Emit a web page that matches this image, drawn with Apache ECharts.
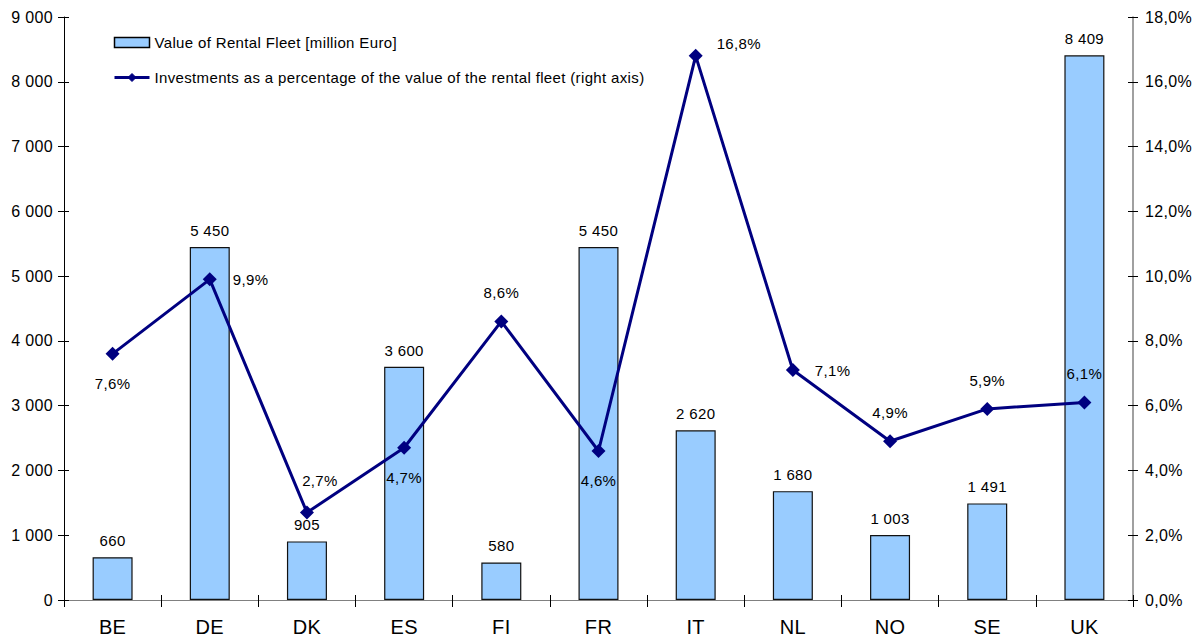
<!DOCTYPE html>
<html>
<head>
<meta charset="utf-8">
<script src="https://cdn.jsdelivr.net/npm/echarts@6/dist/echarts.min.js"></script>
<style>
html,body{margin:0;padding:0;background:#fff;}
#chart{width:1200px;height:641px;}
#chart svg text{letter-spacing:0.35px;}
</style>
</head>
<body>
<div id="chart"></div>
<script>
// Rental fleet value by country and investment share
const countries = ['BE','DE','DK','ES','FI','FR','IT','NL','NO','SE','UK'];
const fleetValue = [660, 5450, 905, 3600, 580, 5450, 2620, 1680, 1003, 1491, 8409];
const investPct = [7.6, 9.9, 2.7, 4.7, 8.6, 4.6, 16.8, 7.1, 4.9, 5.9, 6.1];
const pctLabelPos = ['bottom','right','top','bottom','top','bottom','right','right','top','top','top'];

const FONT = '"Liberation Sans", Arial, sans-serif';
const fmtThousands = v => String(Math.round(v)).replace(/\B(?=(\d{3})+(?!\d))/g, ' ');
const fmtPct = v => v.toFixed(1).replace('.', ',') + '%';

const labelOffsets = {
  bottom: [0, 3],
  top: [0, -2],
  right: [3, 0]
};
const specialOffsets = { DK: [13, -6], IT: [2, -12], DE: [4, 0] };

const lineData = investPct.map((v, i) => {
  const pos = pctLabelPos[i];
  return {
    value: v,
    label: { position: pos, offset: specialOffsets[countries[i]] || labelOffsets[pos] }
  };
});

// Ticks cross the axis lines: an extra tick-only axis draws the inner half
const tickOnly = inside => ({
  axisLine: { show: false },
  axisLabel: { show: false },
  splitLine: { show: false },
  axisTick: { show: true, inside: inside, length: 5, lineStyle: { color: '#000' } }
});

const chart = echarts.init(document.getElementById('chart'), null, { renderer: 'svg' });
chart.setOption({
  animation: false,
  backgroundColor: '#ffffff',
  textStyle: { fontFamily: FONT, color: '#000' },
  grid: { left: 64, right: 67, top: 17, bottom: 41, containLabel: false },
  legend: {
    orient: 'vertical',
    left: 108,
    top: 30,
    itemGap: 20,
    itemWidth: 35,
    itemHeight: 10,
    itemStyle: { borderColor: '#000', borderWidth: 1.5 },
    textStyle: { fontFamily: FONT, fontSize: 15, color: '#000' },
    data: [
      { name: 'Value of Rental Fleet [million Euro]', icon: 'rect',
        itemStyle: { color: '#99CCFF', borderColor: '#000', borderWidth: 1.5 } },
      { name: 'Investments as a percentage of the value of the rental fleet (right axis)',
        lineStyle: { width: 3, color: '#000080' },
        itemStyle: { color: '#000080', borderColor: '#000080', borderWidth: 1 } }
    ]
  },
  xAxis: [
    {
      type: 'category',
      data: countries,
      axisLine: { lineStyle: { color: '#808080', width: 1 } },
      axisTick: { show: true, length: 7, lineStyle: { color: '#000' } },
      axisLabel: { fontFamily: FONT, fontSize: 20, color: '#000', margin: 17 }
    },
    Object.assign({ type: 'category', data: countries, position: 'bottom' }, tickOnly(true))
  ],
  yAxis: [
    {
      type: 'value',
      min: 0, max: 9000, interval: 1000,
      splitLine: { show: false },
      axisLine: { show: true, lineStyle: { color: '#000', width: 1 } },
      axisTick: { show: true, length: 6, lineStyle: { color: '#000' } },
      axisLabel: { fontFamily: FONT, fontSize: 16, color: '#000', margin: 11,
        formatter: v => fmtThousands(v) }
    },
    {
      type: 'value',
      min: 0, max: 18, interval: 2,
      splitLine: { show: false },
      axisLine: { show: true, lineStyle: { color: '#808080', width: 1.5 } },
      axisTick: { show: true, length: 5, lineStyle: { color: '#000' } },
      axisLabel: { fontFamily: FONT, fontSize: 16, color: '#000', margin: 12,
        formatter: v => fmtPct(v) }
    },
    Object.assign({ type: 'value', min: 0, max: 9000, interval: 1000, position: 'left' }, tickOnly(true)),
    Object.assign({ type: 'value', min: 0, max: 18, interval: 2, position: 'right' }, tickOnly(true))
  ],
  series: [
    {
      name: 'Value of Rental Fleet [million Euro]',
      type: 'bar',
      xAxisIndex: 0,
      yAxisIndex: 0,
      data: fleetValue,
      barWidth: 40,
      itemStyle: { color: '#99CCFF', borderColor: '#111', borderWidth: 1.2 },
      label: {
        show: true, position: 'top', distance: 9,
        fontFamily: FONT, fontSize: 15, color: '#000',
        formatter: p => fmtThousands(p.value)
      },
      z: 2
    },
    {
      name: 'Investments as a percentage of the value of the rental fleet (right axis)',
      type: 'line',
      xAxisIndex: 0,
      yAxisIndex: 1,
      data: lineData,
      symbol: 'diamond',
      symbolSize: 14,
      lineStyle: { color: '#000080', width: 3 },
      itemStyle: { color: '#000080' },
      label: {
        show: true, distance: 12,
        fontFamily: FONT, fontSize: 15, color: '#000',
        formatter: p => fmtPct(p.value)
      },
      z: 3
    }
  ]
});
</script>
</body>
</html>
